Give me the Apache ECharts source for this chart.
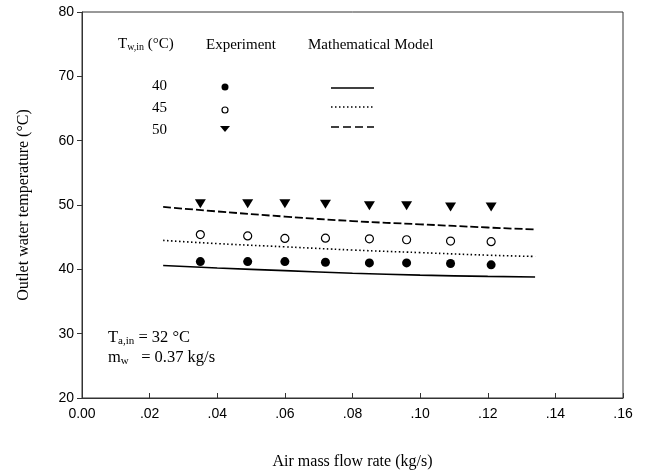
<!DOCTYPE html>
<html>
<head>
<meta charset="utf-8">
<script src="https://cdn.jsdelivr.net/npm/echarts@6/dist/echarts.min.js"></script>
<style>
  html, body { margin: 0; padding: 0; background: #fff; }
  #chart { width: 649px; height: 473px; }
</style>
</head>
<body>
<div id="chart"></div>
<script>
// experiment points (air mass flow rate, kg/s)
const expX = [0.035, 0.049, 0.060, 0.072, 0.085, 0.096, 0.109, 0.121]
const exp40 = [41.2, 41.2, 41.2, 41.1, 41.0, 41.0, 40.9, 40.7]
const exp45 = [45.4, 45.2, 44.8, 44.85, 44.75, 44.6, 44.4, 44.3]
const exp50 = [50.2, 50.2, 50.2, 50.1, 49.9, 49.9, 49.7, 49.7]

// mathematical model curves
const modelX = [0.024, 0.04, 0.06, 0.08, 0.10, 0.12, 0.134]
const model40 = [40.6, 40.2, 39.8, 39.4, 39.1, 38.9, 38.8]
const model45 = [44.5, 44.0, 43.5, 43.0, 42.6, 42.2, 42.0]
const model50 = [49.7, 49.0, 48.2, 47.5, 47.0, 46.5, 46.2]

const legendTemps = ['40', '45', '50']

const pair = (xs, ys) => xs.map((x, i) => [x, ys[i]])

const serif = '"Liberation Serif", "Times New Roman", serif'
const sans = '"Liberation Sans", Arial, sans-serif'

const chart = echarts.init(document.getElementById('chart'))

// legend table (drawn as graphic, like the original figure)
const rowY = [87, 109, 131]
const legendGraphics = [
  {
    type: 'text', left: 118, top: 37,
    style: {
      text: '{a|T}{s|w,in}{a| (°C)}',
      rich: {
        a: { fontFamily: serif, fontSize: 15, fill: '#000' },
        s: { fontFamily: serif, fontSize: 10, fill: '#000', padding: [6, 0, 0, 0] }
      }
    }
  },
  { type: 'text', left: 206, top: 38, style: { text: 'Experiment', font: '15px ' + serif, fill: '#000' } },
  { type: 'text', left: 308, top: 38, style: { text: 'Mathematical Model', font: '15px ' + serif, fill: '#000' } }
]
legendTemps.forEach((t, i) => {
  legendGraphics.push({
    type: 'text', left: 152, top: rowY[i] - 8,
    style: { text: t, font: '15px ' + serif, fill: '#000' }
  })
})
legendGraphics.push(
  { type: 'circle', shape: { cx: 225, cy: rowY[0], r: 3.5 }, style: { fill: '#000' } },
  { type: 'circle', shape: { cx: 225, cy: rowY[1] + 1, r: 3 }, style: { fill: '#fff', stroke: '#000', lineWidth: 1.2 } },
  { type: 'polygon', shape: { points: [[220, rowY[2] - 5], [230, rowY[2] - 5], [225, rowY[2] + 1]] }, style: { fill: '#000' } },
  { type: 'line', shape: { x1: 331, y1: rowY[0] + 1, x2: 374, y2: rowY[0] + 1 }, style: { stroke: '#000', lineWidth: 1.5 } },
  { type: 'line', shape: { x1: 331, y1: rowY[1] - 2, x2: 374, y2: rowY[1] - 2 }, style: { stroke: '#000', lineWidth: 1.5, lineDash: [1.5, 2.5] } },
  { type: 'line', shape: { x1: 331, y1: rowY[2] - 4, x2: 374, y2: rowY[2] - 4 }, style: { stroke: '#000', lineWidth: 1.5, lineDash: [8, 4] } },
  {
    type: 'text', left: 108, top: 328,
    style: {
      text: '{a|T}{s|a,in}{a| = 32 °C}\n{a|m}{s|w}{a|   = 0.37 kg/s}',
      lineHeight: 20,
      rich: {
        a: { fontFamily: serif, fontSize: 16.5, fill: '#000', lineHeight: 20 },
        s: { fontFamily: serif, fontSize: 11, fill: '#000', padding: [6, 0, 0, 0], lineHeight: 20 }
      }
    }
  }
)

const option = {
  animation: false,
  backgroundColor: '#fff',
  grid: {
    left: 82, right: 26, top: 12, bottom: 75,
    outerBoundsMode: 'none',
    show: true, borderColor: '#333', borderWidth: 1
  },
  xAxis: {
    type: 'value',
    min: 0, max: 0.16, interval: 0.02,
    name: 'Air mass flow rate (kg/s)',
    nameLocation: 'middle',
    nameGap: 56,
    nameTextStyle: { fontFamily: serif, fontSize: 16, color: '#000' },
    axisLine: { lineStyle: { color: '#333', width: 1 } },
    axisTick: { inside: true, length: 5, lineStyle: { color: '#333' } },
    splitLine: { show: false },
    axisLabel: {
      fontFamily: sans, fontSize: 14, color: '#000', margin: 9,
      formatter: v => v === 0 ? '0.00' : '.' + v.toFixed(2).split('.')[1]
    }
  },
  yAxis: {
    type: 'value',
    min: 20, max: 80, interval: 10,
    name: 'Outlet water temperature (°C)',
    nameLocation: 'middle',
    nameGap: 50,
    nameTextStyle: { fontFamily: serif, fontSize: 16, color: '#000' },
    axisLine: { show: true, lineStyle: { color: '#333', width: 1 } },
    axisTick: { show: true, inside: false, length: 5, lineStyle: { color: '#333' } },
    splitLine: { show: false },
    axisLabel: { fontFamily: sans, fontSize: 14, color: '#000', margin: 8 }
  },
  graphic: legendGraphics,
  series: [
    {
      name: 'Model 40', type: 'line', data: pair(modelX, model40), smooth: true,
      showSymbol: false, lineStyle: { color: '#000', width: 1.6 }
    },
    {
      name: 'Model 45', type: 'line', data: pair(modelX, model45), smooth: true,
      showSymbol: false, lineStyle: { color: '#000', width: 1.6, type: [1.5, 2.5] }
    },
    {
      name: 'Model 50', type: 'line', data: pair(modelX, model50), smooth: true,
      showSymbol: false, lineStyle: { color: '#000', width: 1.8, type: [8, 3] }
    },
    {
      name: 'Exp 40', type: 'scatter', data: pair(expX, exp40),
      symbol: 'circle', symbolSize: 9, itemStyle: { color: '#000', opacity: 1 }
    },
    {
      name: 'Exp 45', type: 'scatter', data: pair(expX, exp45),
      symbol: 'circle', symbolSize: 8,
      itemStyle: { color: '#fff', borderColor: '#000', borderWidth: 1.2, opacity: 1 }
    },
    {
      name: 'Exp 50', type: 'scatter', data: pair(expX, exp50),
      symbol: 'triangle', symbolSize: [11, 9], symbolRotate: 180,
      itemStyle: { color: '#000', opacity: 1 }
    }
  ]
}
chart.setOption(option)
</script>
</body>
</html>
